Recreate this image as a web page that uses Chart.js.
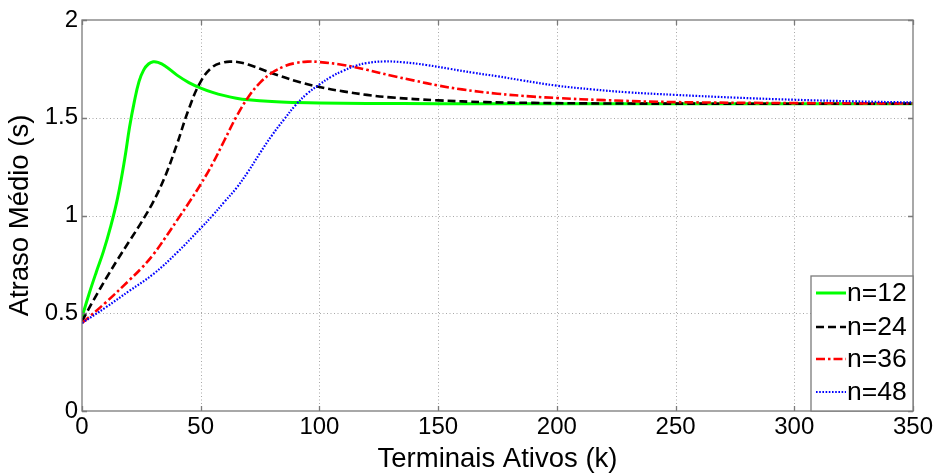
<!DOCTYPE html>
<html>
<head>
<meta charset="utf-8">
<script src="https://cdn.jsdelivr.net/npm/chart.js@4"></script>
<style>
html,body{margin:0;padding:0;background:#fff;}
#wrap{width:942px;height:476px;position:relative;}
</style>
</head>
<body>
<div id="wrap"><canvas id="c" width="942" height="476"></canvas></div>
<script>
// ---- data ----
const seriesLabels = ['n=12', 'n=24', 'n=36', 'n=48'];

const k12 = [0, 3, 6, 9, 12, 15, 18, 20, 22, 24, 26, 28, 30, 32, 35, 40, 45, 50, 55, 60, 65, 70, 80, 90, 100, 120, 150, 200, 350];
const n12 = [0.48, 0.6, 0.71, 0.815, 0.94, 1.09, 1.29, 1.45, 1.58, 1.685, 1.745, 1.775, 1.786, 1.783, 1.765, 1.718, 1.68, 1.652, 1.63, 1.613, 1.6, 1.592, 1.583, 1.578, 1.575, 1.573, 1.572, 1.572, 1.572];

const k24 = [0, 5, 10, 15, 20, 25, 30, 35, 40, 45, 50, 55, 60, 63, 66, 70, 80, 90, 100, 110, 120, 130, 150, 170, 190, 220, 260, 350];
const n24 = [0.46, 0.57, 0.675, 0.775, 0.87, 0.965, 1.07, 1.2, 1.365, 1.545, 1.685, 1.76, 1.784, 1.787, 1.784, 1.772, 1.728, 1.688, 1.657, 1.635, 1.617, 1.604, 1.589, 1.58, 1.576, 1.573, 1.572, 1.572];

const k36 = [0, 10, 20, 25, 30, 35, 40, 45, 50, 55, 60, 65, 70, 75, 80, 85, 90, 95, 100, 110, 120, 130, 140, 150, 160, 175, 190, 200, 220, 250, 300, 350];
const n36 = [0.45, 0.555, 0.67, 0.73, 0.80, 0.885, 0.975, 1.065, 1.16, 1.265, 1.385, 1.505, 1.605, 1.68, 1.73, 1.762, 1.78, 1.787, 1.785, 1.77, 1.745, 1.716, 1.69, 1.665, 1.645, 1.623, 1.608, 1.601, 1.59, 1.58, 1.575, 1.573];

const k48 = [0, 10, 20, 30, 40, 50, 55, 60, 65, 70, 75, 80, 85, 90, 95, 100, 105, 110, 115, 120, 127, 135, 145, 155, 165, 175, 185, 200, 215, 230, 250, 275, 300, 325, 350];
const n48 = [0.45, 0.53, 0.615, 0.70, 0.81, 0.935, 1.0, 1.07, 1.14, 1.225, 1.32, 1.41, 1.49, 1.565, 1.625, 1.67, 1.71, 1.74, 1.765, 1.78, 1.788, 1.784, 1.77, 1.75, 1.73, 1.712, 1.692, 1.664, 1.645, 1.63, 1.617, 1.603, 1.592, 1.584, 1.578];

const xTicks = [0, 50, 100, 150, 200, 250, 300, 350];
const yTicks = [0, 0.5, 1, 1.5, 2];

function pts(xs, ys) { return xs.map((x, i) => ({x: x, y: ys[i]})); }

const FONT = "'Liberation Sans', Arial, sans-serif";

const styles = [
  {color: '#00ff00', width: 3, dash: []},
  {color: '#000000', width: 2.6, dash: [8, 4]},
  {color: '#ff0000', width: 2.6, dash: [9, 3, 2.5, 3]},
  {color: '#0000ff', width: 2.2, dash: [1.6, 1.6]}
];
const seriesData = [pts(k12, n12), pts(k24, n24), pts(k36, n36), pts(k48, n48)];

const datasets = seriesData.map((d, i) => ({
  label: seriesLabels[i],
  data: d,
  borderColor: styles[i].color,
  borderWidth: styles[i].width,
  borderDash: styles[i].dash,
  pointRadius: 0,
  fill: false,
  tension: 0.4,
  order: 4 - i
}));

const gridPlugin = {
  id: 'dotgrid',
  beforeDatasetsDraw(chart) {
    const ctx = chart.ctx;
    const a = chart.chartArea;
    const xs = chart.scales.x, ys = chart.scales.y;
    ctx.save();
    ctx.strokeStyle = '#a8a8a8';
    ctx.lineWidth = 1;
    ctx.setLineDash([1, 2.5]);
    ctx.beginPath();
    xTicks.slice(1, -1).forEach(v => {
      const px = Math.round(xs.getPixelForValue(v)) + 0.5;
      ctx.moveTo(px, a.bottom); ctx.lineTo(px, a.top);
    });
    yTicks.slice(1, -1).forEach(v => {
      const py = Math.round(ys.getPixelForValue(v)) + 0.5;
      ctx.moveTo(a.left, py); ctx.lineTo(a.right, py);
    });
    ctx.stroke();
    ctx.restore();
  }
};

const framePlugin = {
  id: 'frame',
  afterDraw(chart) {
    const ctx = chart.ctx;
    const a = chart.chartArea;
    const xs = chart.scales.x, ys = chart.scales.y;
    ctx.save();
    ctx.strokeStyle = '#7a7a7a';
    ctx.lineWidth = 1.3;
    ctx.setLineDash([]);
    ctx.strokeRect(a.left, a.top, a.right - a.left, a.bottom - a.top);
    // inward ticks
    const tl = 5;
    ctx.beginPath();
    xTicks.forEach(v => {
      const px = Math.round(xs.getPixelForValue(v)) + 0.5;
      ctx.moveTo(px, a.bottom); ctx.lineTo(px, a.bottom - tl);
      ctx.moveTo(px, a.top); ctx.lineTo(px, a.top + tl);
    });
    yTicks.forEach(v => {
      const py = Math.round(ys.getPixelForValue(v)) + 0.5;
      ctx.moveTo(a.left, py); ctx.lineTo(a.left + tl, py);
      ctx.moveTo(a.right, py); ctx.lineTo(a.right - tl, py);
    });
    ctx.stroke();

    // legend box inside lower-right corner
    const bw = 102, bh = 135;
    const bx = a.right - bw, by = a.bottom - bh;
    ctx.fillStyle = '#ffffff';
    ctx.fillRect(bx, by, bw, bh);
    ctx.strokeStyle = '#7a7a7a';
    ctx.lineWidth = 1.3;
    ctx.strokeRect(bx, by, bw, bh);
    ctx.font = '26.5px ' + FONT;
    ctx.textBaseline = 'middle';
    ctx.textAlign = 'left';
    const rowY = [17, 51, 83, 116];
    chart.data.datasets.forEach((ds, i) => {
      const y = by + rowY[i];
      ctx.strokeStyle = ds.borderColor;
      ctx.lineWidth = ds.borderWidth;
      ctx.setLineDash(ds.borderDash);
      ctx.beginPath();
      ctx.moveTo(bx + 5, y); ctx.lineTo(bx + 35, y);
      ctx.stroke();
      ctx.setLineDash([]);
      ctx.fillStyle = '#000';
      ctx.fillText(ds.label, bx + 36, y + 1);
    });
    ctx.restore();
  }
};

new Chart(document.getElementById('c'), {
  type: 'line',
  data: {datasets: datasets},
  plugins: [gridPlugin, framePlugin],
  options: {
    responsive: false,
    animation: false,
    events: [],
    layout: {padding: {top: 20, right: 29, left: 0, bottom: 0}},
    plugins: {legend: {display: false}, tooltip: {enabled: false}},
    scales: {
      x: {
        type: 'linear', min: 0, max: 350,
        afterBuildTicks(s) { s.ticks = xTicks.map(v => ({value: v})); },
        ticks: {font: {size: 24, family: FONT}, color: '#000', padding: 2, maxRotation: 0, autoSkip: false,
                callback: v => String(v)},
        grid: {display: false, drawTicks: false},
        border: {display: false},
        title: {display: true, text: 'Terminais Ativos (k)', font: {size: 27.5, family: FONT}, color: '#000', padding: {top: -3, bottom: 0}},
        afterFit(s) { s.height = 65; }
      },
      y: {
        type: 'linear', min: 0, max: 2,
        afterBuildTicks(s) { s.ticks = yTicks.map(v => ({value: v})); },
        ticks: {font: {size: 24, family: FONT}, color: '#000', padding: 4, autoSkip: false,
                callback: v => String(v)},
        grid: {display: false, drawTicks: false},
        border: {display: false},
        title: {display: true, text: 'Atraso Médio (s)', font: {size: 27.5, family: FONT}, color: '#000', padding: {top: 4, bottom: 0}},
        afterFit(s) { s.width = 82; }
      }
    }
  }
});
</script>
</body>
</html>
